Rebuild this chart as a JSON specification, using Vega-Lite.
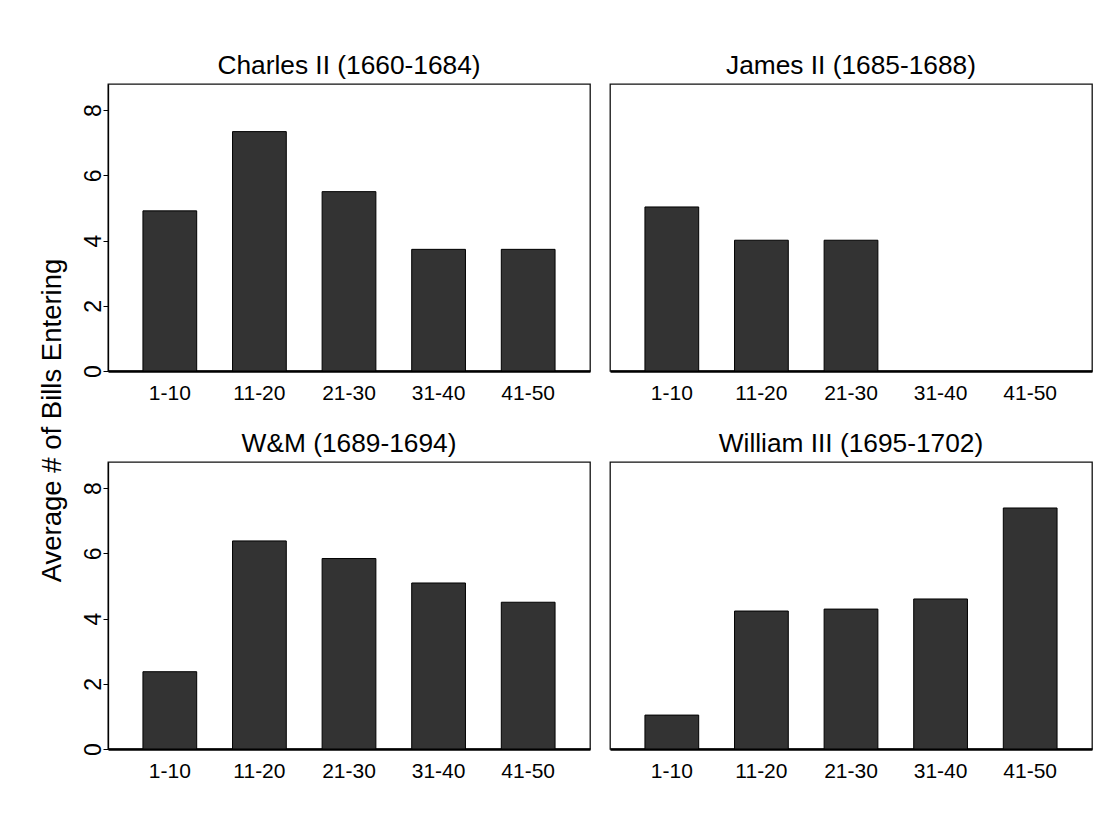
{
  "$schema": "https://vega.github.io/schema/vega-lite/v6.json",
  "padding": {"left": 37, "top": 52, "right": 5, "bottom": 5},
  "background": "white",
  "data": {
    "values": [
      {"reign": "Charles II", "group": "1-10", "value": 4.91},
      {"reign": "Charles II", "group": "11-20", "value": 7.34},
      {"reign": "Charles II", "group": "21-30", "value": 5.50},
      {"reign": "Charles II", "group": "31-40", "value": 3.73},
      {"reign": "Charles II", "group": "41-50", "value": 3.73},
      {"reign": "James II", "group": "1-10", "value": 5.03},
      {"reign": "James II", "group": "11-20", "value": 4.01},
      {"reign": "James II", "group": "21-30", "value": 4.01},
      {"reign": "W&M", "group": "1-10", "value": 2.37},
      {"reign": "W&M", "group": "11-20", "value": 6.38},
      {"reign": "W&M", "group": "21-30", "value": 5.84},
      {"reign": "W&M", "group": "31-40", "value": 5.09},
      {"reign": "W&M", "group": "41-50", "value": 4.50},
      {"reign": "William III", "group": "1-10", "value": 1.04},
      {"reign": "William III", "group": "11-20", "value": 4.23},
      {"reign": "William III", "group": "21-30", "value": 4.29},
      {"reign": "William III", "group": "31-40", "value": 4.60},
      {"reign": "William III", "group": "41-50", "value": 7.39}
    ]
  },
  "columns": 2,
  "bounds": "flush",
  "spacing": {"column": 20, "row": 91},
  "config": {
    "font": "Liberation Sans",
    "view": {"stroke": "#111", "strokeWidth": 1.3},
    "title": {"fontSize": 26.3, "fontWeight": "normal", "color": "black", "offset": 4.5, "baseline": "alphabetic", "anchor": "middle"}
  },
  "concat": [
    {
      "width": 482, "height": 287,
      "title": "Charles II (1660-1684)",
      "transform": [{"filter": "datum.reign === 'Charles II'"}],
      "mark": {"type": "bar", "fill": "#333333", "stroke": "#000", "strokeWidth": 1},
      "encoding": {
        "x": {"field": "group", "type": "nominal", "sort": null, "scale": {"domain": ["1-10", "11-20", "21-30", "31-40", "41-50"], "paddingInner": 0.4, "paddingOuter": 0.39},
          "axis": {"title": null, "labelAngle": 0, "ticks": false, "tickSize": 0, "labelFontSize": 21, "labelColor": "black", "labelBaseline": "alphabetic", "labelPadding": 28, "domainColor": "black", "domainWidth": 2.5, "grid": false}},
        "y": {"field": "value", "type": "quantitative", "scale": {"domain": [0, 8.8], "nice": false},
          "axis": {"title": "Average # of Bills Entering", "values": [0, 2, 4, 6, 8], "grid": false, "tickSize": 5, "tickColor": "black", "tickWidth": 1, "domainColor": "black", "domainWidth": 1.3, "labelAngle": 270, "labelAlign": "center", "labelBaseline": "alphabetic", "labelPadding": 3, "labelFontSize": 23, "labelColor": "black", "labelFlush": false, "titleFontSize": 27.5, "titleFontWeight": "normal", "titleColor": "black", "titleAngle": 270, "titleX": -47.7, "titleY": 336, "titleAlign": "center", "titleBaseline": "alphabetic"}}
      }
    },
    {
      "width": 482, "height": 287,
      "title": "James II (1685-1688)",
      "transform": [{"filter": "datum.reign === 'James II'"}],
      "mark": {"type": "bar", "fill": "#333333", "stroke": "#000", "strokeWidth": 1},
      "encoding": {
        "x": {"field": "group", "type": "nominal", "sort": null, "scale": {"domain": ["1-10", "11-20", "21-30", "31-40", "41-50"], "paddingInner": 0.4, "paddingOuter": 0.39},
          "axis": {"title": null, "labelAngle": 0, "ticks": false, "tickSize": 0, "labelFontSize": 21, "labelColor": "black", "labelBaseline": "alphabetic", "labelPadding": 28, "domainColor": "black", "domainWidth": 2.5, "grid": false}},
        "y": {"field": "value", "type": "quantitative", "scale": {"domain": [0, 8.8], "nice": false}, "axis": null}
      }
    },
    {
      "width": 482, "height": 287,
      "title": "W&M (1689-1694)",
      "transform": [{"filter": "datum.reign === 'W&M'"}],
      "mark": {"type": "bar", "fill": "#333333", "stroke": "#000", "strokeWidth": 1},
      "encoding": {
        "x": {"field": "group", "type": "nominal", "sort": null, "scale": {"domain": ["1-10", "11-20", "21-30", "31-40", "41-50"], "paddingInner": 0.4, "paddingOuter": 0.39},
          "axis": {"title": null, "labelAngle": 0, "ticks": false, "tickSize": 0, "labelFontSize": 21, "labelColor": "black", "labelBaseline": "alphabetic", "labelPadding": 28, "domainColor": "black", "domainWidth": 2.5, "grid": false}},
        "y": {"field": "value", "type": "quantitative", "scale": {"domain": [0, 8.8], "nice": false},
          "axis": {"title": null, "values": [0, 2, 4, 6, 8], "grid": false, "tickSize": 5, "tickColor": "black", "tickWidth": 1, "domainColor": "black", "domainWidth": 1.3, "labelAngle": 270, "labelAlign": "center", "labelBaseline": "alphabetic", "labelPadding": 3, "labelFontSize": 23, "labelColor": "black", "labelFlush": false}}
      }
    },
    {
      "width": 482, "height": 287,
      "title": "William III (1695-1702)",
      "transform": [{"filter": "datum.reign === 'William III'"}],
      "mark": {"type": "bar", "fill": "#333333", "stroke": "#000", "strokeWidth": 1},
      "encoding": {
        "x": {"field": "group", "type": "nominal", "sort": null, "scale": {"domain": ["1-10", "11-20", "21-30", "31-40", "41-50"], "paddingInner": 0.4, "paddingOuter": 0.39},
          "axis": {"title": null, "labelAngle": 0, "ticks": false, "tickSize": 0, "labelFontSize": 21, "labelColor": "black", "labelBaseline": "alphabetic", "labelPadding": 28, "domainColor": "black", "domainWidth": 2.5, "grid": false}},
        "y": {"field": "value", "type": "quantitative", "scale": {"domain": [0, 8.8], "nice": false}, "axis": null}
      }
    }
  ]
}
